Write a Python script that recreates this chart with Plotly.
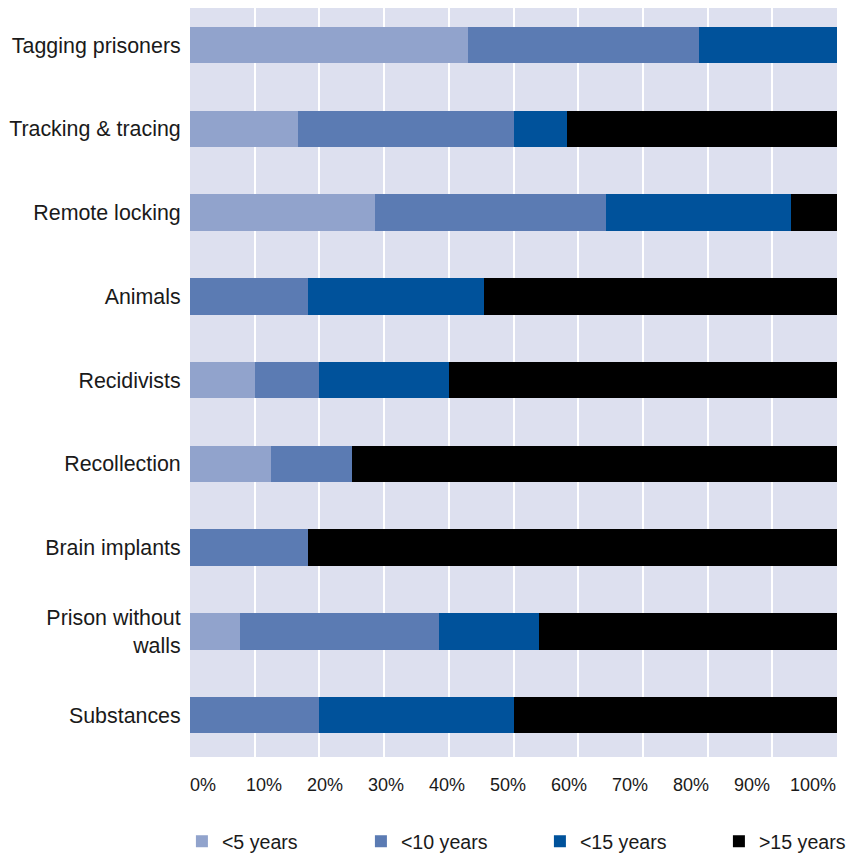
import plotly.graph_objects as go

categories = ["Tagging prisoners", "Tracking & tracing", "Remote locking", "Animals",
              "Recidivists", "Recollection", "Brain implants", "Prison without<br>walls",
              "Substances"]
series_names = ["<5 years", "<10 years", "<15 years", ">15 years"]
lt5 = [42.9, 16.7, 28.6, 0, 10, 12.5, 0, 7.7, 0]
lt10 = [35.7, 33.3, 35.7, 18.2, 10, 12.5, 18.2, 30.8, 20]
lt15 = [21.4, 8.3, 28.6, 27.3, 20, 0, 0, 15.4, 30]
gt15 = [0, 41.7, 7.1, 54.5, 60, 75, 81.8, 46.1, 50]
tick_values = [0, 10, 20, 30, 40, 50, 60, 70, 80, 90, 100]
tick_labels = ["0%", "10%", "20%", "30%", "40%", "50%", "60%", "70%", "80%", "90%", "100%"]
colors = ["#91a3cc", "#5b7bb3", "#00529b", "#000000"]

FONT = "Liberation Sans, Arial, sans-serif"

fig = go.Figure()
for name, vals, col in zip(series_names, [lt5, lt10, lt15, gt15], colors):
    fig.add_trace(go.Bar(y=categories, x=vals, name=name, orientation="h",
                         marker=dict(color=col, line=dict(width=0))))
# empty trace to carry the label axis
fig.add_trace(go.Scatter(x=[None], y=[None], xaxis="x2", showlegend=False, hoverinfo="skip"))

fig.update_layout(
    width=900, height=853,
    margin=dict(l=182, r=71, t=0, b=103.5),
    barmode="stack", bargap=0.565,
    plot_bgcolor="#dde0ef", paper_bgcolor="white",
    font=dict(family=FONT, color="#1a1a1a"),
    xaxis=dict(range=[0, 100], tickvals=tick_values[1:-1], showticklabels=False,
               showgrid=True, gridcolor="white", gridwidth=2, zeroline=False,
               showline=False, ticks=""),
    xaxis2=dict(range=[-2.13, 103.94], overlaying="x", side="bottom", anchor="y",
                tickvals=tick_values, ticktext=tick_labels, showgrid=False,
                zeroline=False, showline=False, ticks="outside", ticklen=11.5,
                tickcolor="rgba(0,0,0,0)", tickfont=dict(size=18, family=FONT, color="#1a1a1a")),
    yaxis=dict(categoryorder="array", categoryarray=categories, range=[8.5, -0.444],
               showgrid=False, zeroline=False, showline=False, ticks="outside",
               ticklen=4, tickcolor="rgba(0,0,0,0)",
               tickfont=dict(size=21.4, family=FONT, color="#1a1a1a")),
    legend=dict(orientation="h", x=-0.0125, xanchor="left", y=-0.113, yanchor="middle",
                entrywidth=134, font=dict(size=19.6, family=FONT, color="#1a1a1a"),
                traceorder="normal", bgcolor="rgba(0,0,0,0)"),
)

fig.write_html("out.html")
